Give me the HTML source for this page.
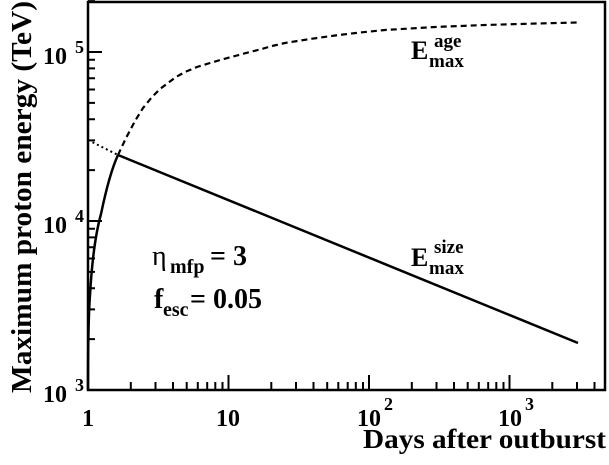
<!DOCTYPE html>
<html><head><meta charset="utf-8"><style>
html,body{margin:0;padding:0;background:#fff;}
svg{display:block;font-family:"Liberation Serif",serif;font-weight:bold;}
</style></head><body>
<svg width="609" height="465" viewBox="0 0 609 465" xmlns="http://www.w3.org/2000/svg">
<rect x="88" y="2" width="517" height="388" fill="none" stroke="#000" stroke-width="2.5"/>
<g stroke="#000" stroke-width="2">
<path d="M228.5,390v-15M369,390v-15M509.5,390v-15"/>
<path d="M130.8,390v-8M155.5,390v-8M173,390v-8M186.7,390v-8M197.8,390v-8M207.2,390v-8M215.3,390v-8M222.5,390v-8
M271.3,390v-8M296,390v-8M313.5,390v-8M327.2,390v-8M338.3,390v-8M347.7,390v-8M355.8,390v-8M363,390v-8
M411.8,390v-8M436.5,390v-8M454,390v-8M467.7,390v-8M478.8,390v-8M488.2,390v-8M496.3,390v-8M503.5,390v-8
M552.3,390v-8M577,390v-8M594.5,390v-8"/>
<path d="M88,221h14M88,52h14"/>
<path d="M88,339.1h7M88,309.4h7M88,288.3h7M88,271.9h7M88,258.5h7M88,247.2h7M88,237.4h7M88,228.7h7
M88,170.1h7M88,140.4h7M88,119.3h7M88,102.9h7M88,89.5h7M88,78.2h7M88,68.4h7M88,59.7h7M88,1.1h7"/>
</g>
<path d="M88,140 L118,155" fill="none" stroke="#000" stroke-width="2" stroke-dasharray="2,3"/>
<path d="M118,155 L578,343" fill="none" stroke="#000" stroke-width="2.5"/>
<path d="M88,390 C88,345 88.5,315 90,295 C92,260 96,232 101,214 C106,190 111,170 118,155" fill="none" stroke="#000" stroke-width="2.5"/>
<polyline points="118,155 126,138 135,121 143,108 152,97 160,89 168,83 176,77 185,72 197,67 210,63 222,59.5 235,56 248,52.5 260,49.5 272,46 285,43 310,39 335,35.5 360,32.5 385,30 410,28.5 435,27 460,26 485,25 530,23.7 577,22.5" fill="none" stroke="#000" stroke-width="2.2" stroke-dasharray="6,4" stroke-linejoin="round"/>
<g font-size="24">
<text x="43" y="402">10</text><text x="75" y="391" font-size="18">3</text>
<text x="43" y="233">10</text><text x="75" y="222" font-size="18">4</text>
<text x="43" y="64">10</text><text x="75" y="53" font-size="18">5</text>
</g>
<g font-size="24">
<text x="82" y="426">1</text>
<text x="216" y="426">10</text>
<text x="357" y="426">10</text><text x="384" y="410" font-size="18">2</text>
<text x="498" y="426">10</text><text x="525" y="410" font-size="18">3</text>
</g>
<text x="363" y="448" font-size="27" textLength="243" lengthAdjust="spacingAndGlyphs">Days after outburst</text>
<text transform="translate(31,393) rotate(-90)" font-size="28" textLength="392" lengthAdjust="spacingAndGlyphs">Maximum proton energy (TeV)</text>
<text x="411" y="59" font-size="26">E</text><text x="429" y="67" font-size="19">max</text><text x="434" y="47" font-size="19">age</text>
<text x="411" y="266" font-size="26">E</text><text x="429" y="274" font-size="19">max</text><text x="434" y="253" font-size="19">size</text>
<text x="152" y="265" font-size="28" font-weight="normal">η</text><text x="170" y="273" font-size="20">mfp</text><text x="210" y="265" font-size="28">= 3</text>
<text x="154" y="308" font-size="28">f</text><text x="163" y="316" font-size="20">esc</text><text x="190" y="308" font-size="28">= 0.05</text>
</svg>
</body></html>
